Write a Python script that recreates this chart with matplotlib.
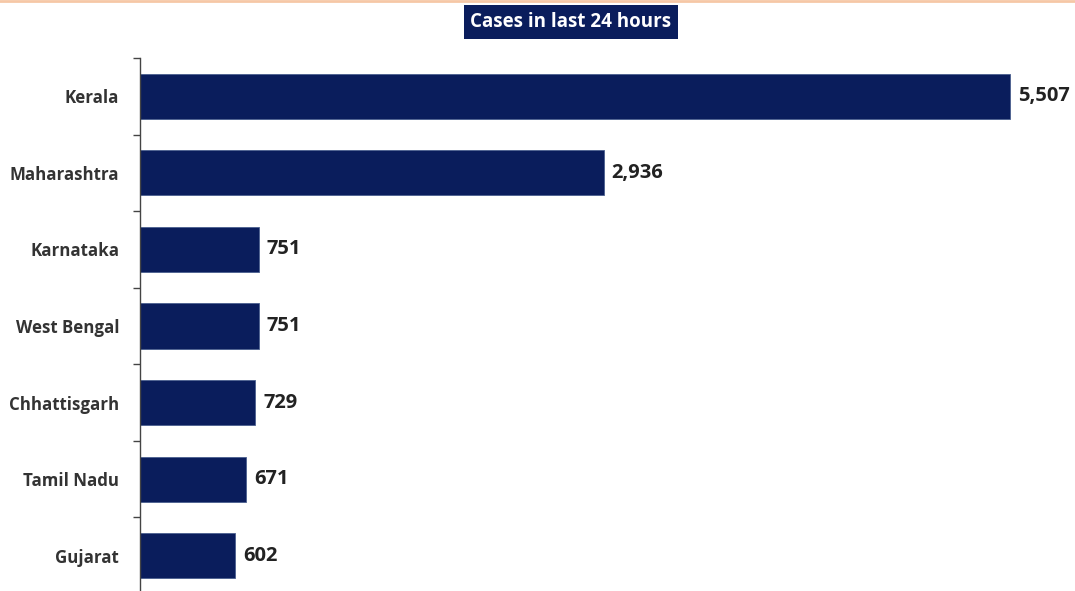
import matplotlib
matplotlib.use("Agg")
import matplotlib.pyplot as plt
import numpy as np

states = ["Kerala", "Maharashtra", "Karnataka", "West Bengal",
          "Chhattisgarh", "Tamil Nadu", "Gujarat"]
cases = [5507, 2936, 751, 751, 729, 671, 602]

navy = "#0a1d5c"
plt.rcParams['font.family'] = ['Open Sans', 'DejaVu Sans']

fig = plt.figure(figsize=(10.75, 5.91), dpi=100)
ax = fig.add_axes([140/1075, -3/591, 935/1075, 536/591])

y = np.arange(len(states))
ax.barh(y, cases, height=0.59, color=navy, edgecolor="#4a5f8f", linewidth=0.6)
ax.set_ylim(len(states) - 0.5, -0.5)
ax.set_xlim(0, 5507 * 935 / 870)

for yi, v in zip(y, cases):
    ax.text(v + 50, yi, f"{v:,}", va="center", ha="left",
            fontsize=14.5, fontweight="bold", color="#222222")

ax.set_yticks(y)
ax.set_yticklabels(states, fontsize=12.2, fontweight="bold", color="#333333")
ax.tick_params(axis="y", which="major", length=0, pad=15)
ax.set_yticks(np.arange(-0.5, len(states)), minor=True)
ax.tick_params(axis="y", which="minor", length=5, color="#444444", width=1)
ax.set_xticks([])
for s in ["top", "right", "bottom"]:
    ax.spines[s].set_visible(False)
ax.spines["left"].set_color("#444444")
ax.spines["left"].set_linewidth(1)

fig.text(571/1075, 1 - 22/591, "Cases in last 24 hours", ha="center", va="center",
         fontsize=13.5, fontweight="bold", color="white",
         bbox=dict(boxstyle="square,pad=0.36", facecolor=navy, edgecolor="none"))

# thin orange rule at the top
fig.add_artist(plt.Line2D([0, 1], [0.998, 0.998], color="#f6c7a6", linewidth=2,
                          transform=fig.transFigure))

fig.savefig("out.png", dpi=100, facecolor="white")
